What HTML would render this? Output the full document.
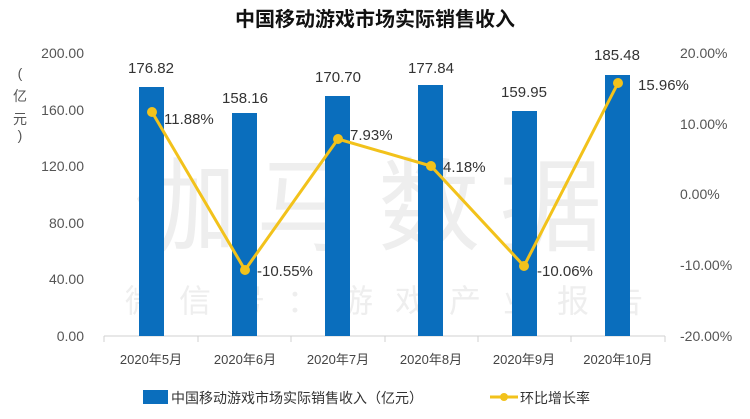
<!DOCTYPE html>
<html><head><meta charset="utf-8"><style>
body{margin:0;background:#fff;}
svg text{font-family:"Liberation Sans","Noto Sans CJK SC",sans-serif;}
</style></head><body>
<svg width="750" height="414" viewBox="0 0 750 414" xmlns="http://www.w3.org/2000/svg">
<rect width="750" height="414" fill="#fff"/>
<text x="375" y="26" text-anchor="middle" font-size="20" fill="#111" font-weight="bold">中国移动游戏市场实际销售收入</text>
<!-- watermark -->
<text x="378" y="243" text-anchor="middle" font-size="102" fill="#eeeeee" letter-spacing="20">伽马数据</text>
<text x="395" y="312" text-anchor="middle" font-size="32" fill="#eeeeee" letter-spacing="22">微信号：游戏产业报告</text>
<!-- axes -->
<line x1="104" y1="336" x2="665" y2="336" stroke="#d0d0d0"/>
<g stroke="#d0d0d0">
<line x1="104" y1="336" x2="104" y2="342"/><line x1="198" y1="336" x2="198" y2="342"/><line x1="291" y1="336" x2="291" y2="342"/><line x1="385" y1="336" x2="385" y2="342"/><line x1="478" y1="336" x2="478" y2="342"/><line x1="571" y1="336" x2="571" y2="342"/><line x1="665" y1="336" x2="665" y2="342"/>
</g>
<g font-size="14" fill="#555" text-anchor="end">
<text x="84" y="58">200.00</text><text x="84" y="115">160.00</text><text x="84" y="171">120.00</text><text x="84" y="228">80.00</text><text x="84" y="284">40.00</text><text x="84" y="341">0.00</text>
</g>
<g font-size="14" fill="#555">
<text x="680" y="58">20.00%</text><text x="680" y="129">10.00%</text><text x="680" y="199">0.00%</text><text x="680" y="270">-10.00%</text><text x="680" y="341">-20.00%</text>
</g>
<g font-size="14" fill="#555" text-anchor="middle">
<text x="20" y="78">(</text><text x="20" y="101">亿</text><text x="20" y="124">元</text><text x="20" y="140">)</text>
</g>
<g font-size="13" fill="#444" text-anchor="middle">
<text x="151" y="364">2020年5月</text><text x="245" y="364">2020年6月</text><text x="338" y="364">2020年7月</text><text x="431" y="364">2020年8月</text><text x="524" y="364">2020年9月</text><text x="618" y="364">2020年10月</text>
</g>
<!-- bars -->
<g fill="#0a6ebd">
<rect x="139" y="87" width="25" height="249"/>
<rect x="232" y="113" width="25" height="223"/>
<rect x="325" y="96" width="25" height="240"/>
<rect x="418" y="85" width="25" height="251"/>
<rect x="512" y="111" width="25" height="225"/>
<rect x="605" y="75" width="25" height="261"/>
</g>
<g font-size="15" fill="#333" text-anchor="middle">
<text x="151" y="73">176.82</text><text x="245" y="103">158.16</text><text x="338" y="82">170.70</text><text x="431" y="73">177.84</text><text x="524" y="97">159.95</text><text x="617" y="60">185.48</text>
</g>
<!-- line -->
<polyline points="152,112 245,270 338,139 431,166 524,266 618,83" fill="none" stroke="#f2c21b" stroke-width="3"/>
<g fill="#f2c21b">
<circle cx="152" cy="112" r="5"/><circle cx="245" cy="270" r="5"/><circle cx="338" cy="139" r="5"/><circle cx="431" cy="166" r="5"/><circle cx="524" cy="266" r="5"/><circle cx="618" cy="83" r="5"/>
</g>
<g font-size="15" fill="#333">
<text x="164" y="124">11.88%</text><text x="257" y="276">-10.55%</text><text x="350" y="140">7.93%</text><text x="443" y="172">4.18%</text><text x="537" y="276">-10.06%</text><text x="638" y="90">15.96%</text>
</g>
<!-- legend -->
<rect x="143" y="390" width="25" height="14" fill="#0a6ebd"/>
<text x="171" y="403" font-size="14" fill="#333">中国移动游戏市场实际销售收入（亿元）</text>
<line x1="490" y1="397" x2="518" y2="397" stroke="#f2c21b" stroke-width="3"/>
<circle cx="504" cy="397" r="4" fill="#f2c21b"/>
<text x="520" y="403" font-size="14" fill="#333">环比增长率</text>
</svg>
</body></html>
